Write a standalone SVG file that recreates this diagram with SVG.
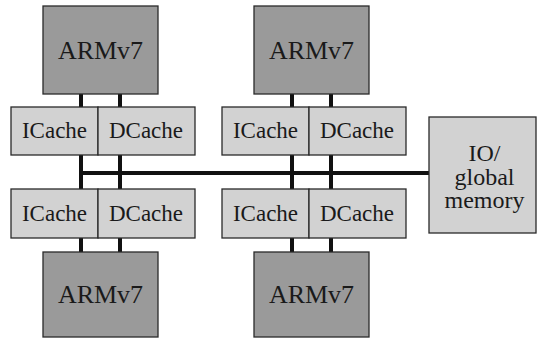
<svg xmlns="http://www.w3.org/2000/svg" width="539" height="338" viewBox="0 0 539 338">
<style>
.arm{fill:#9a9a9a;stroke:#2a2a2a;stroke-width:1.3}
.cache{fill:#d2d2d2;stroke:#2a2a2a;stroke-width:1.3}
text{font-family:'Liberation Serif','Times New Roman',Times,'DejaVu Serif',serif;fill:#1a1a1a;text-anchor:middle}
.big{font-size:26px}
.med{font-size:23px}
.io{font-size:24px}
.wire{stroke:#111;stroke-width:4;fill:none}
</style>
<rect width="539" height="338" fill="#fff"/>
<g id="connectors">
<line class="wire" x1="81" y1="94" x2="81" y2="252"/>
<line class="wire" x1="120" y1="94" x2="120" y2="252"/>
<line class="wire" x1="292" y1="94" x2="292" y2="252"/>
<line class="wire" x1="331" y1="94" x2="331" y2="252"/>
<line class="wire" x1="79" y1="173" x2="429" y2="173"/>
</g>
<g id="arm-top-left"><rect class="arm" x="43" y="6" width="115" height="88"/><text class="big" x="100.5" y="59" font-family="Liberation Serif, serif">ARMv7</text></g>
<g id="arm-top-right"><rect class="arm" x="254" y="6" width="115" height="88"/><text class="big" x="311.5" y="59" font-family="Liberation Serif, serif">ARMv7</text></g>
<g id="icache-top-left"><rect class="cache" x="11" y="107" width="87" height="48"/><text class="med" x="54.5" y="138" font-family="Liberation Serif, serif">ICache</text></g>
<g id="dcache-top-left"><rect class="cache" x="98" y="107" width="97" height="48"/><text class="med" x="146" y="138" font-family="Liberation Serif, serif">DCache</text></g>
<g id="icache-top-right"><rect class="cache" x="222" y="107" width="87" height="48"/><text class="med" x="265.5" y="138" font-family="Liberation Serif, serif">ICache</text></g>
<g id="dcache-top-right"><rect class="cache" x="309" y="107" width="97" height="48"/><text class="med" x="357" y="138" font-family="Liberation Serif, serif">DCache</text></g>
<g id="icache-bottom-left"><rect class="cache" x="11" y="189" width="87" height="49"/><text class="med" x="54.5" y="220.5" font-family="Liberation Serif, serif">ICache</text></g>
<g id="dcache-bottom-left"><rect class="cache" x="98" y="189" width="97" height="49"/><text class="med" x="146" y="220.5" font-family="Liberation Serif, serif">DCache</text></g>
<g id="icache-bottom-right"><rect class="cache" x="222" y="189" width="87" height="49"/><text class="med" x="265.5" y="220.5" font-family="Liberation Serif, serif">ICache</text></g>
<g id="dcache-bottom-right"><rect class="cache" x="309" y="189" width="97" height="49"/><text class="med" x="357" y="220.5" font-family="Liberation Serif, serif">DCache</text></g>
<g id="arm-bottom-left"><rect class="arm" x="43" y="252" width="115" height="85"/><text class="big" x="100.5" y="303" font-family="Liberation Serif, serif">ARMv7</text></g>
<g id="arm-bottom-right"><rect class="arm" x="254" y="252" width="115" height="85"/><text class="big" x="311.5" y="303" font-family="Liberation Serif, serif">ARMv7</text></g>
<g id="io-memory"><rect class="cache" x="429" y="117" width="107" height="116"/>
<text class="io" x="484.5" y="161" font-family="Liberation Serif, serif">IO/</text>
<text class="io" x="484.5" y="184.5" font-family="Liberation Serif, serif">global</text>
<text class="io" x="484.5" y="208" font-family="Liberation Serif, serif">memory</text></g>
</svg>
